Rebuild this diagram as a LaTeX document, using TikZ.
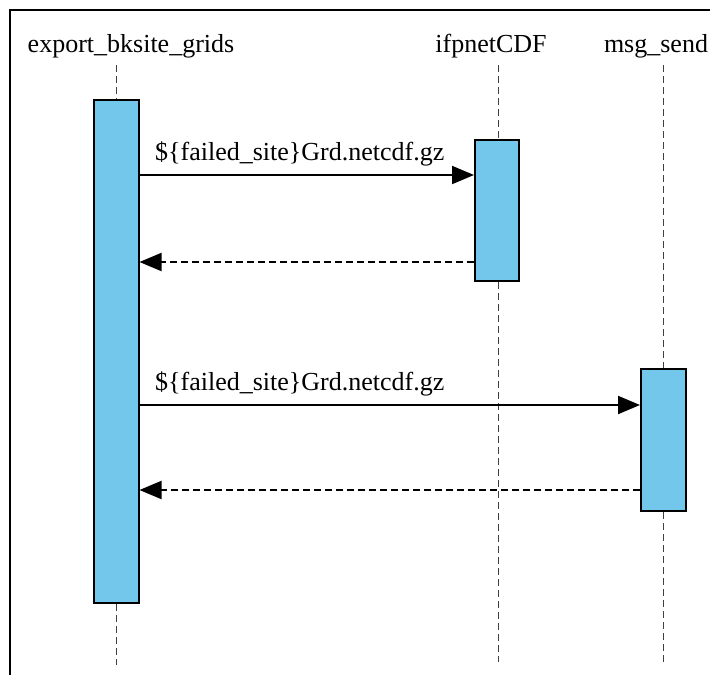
\documentclass[tikz,border=0pt]{standalone}
\usepackage{fontspec}
\setmainfont{Liberation Serif}
\usetikzlibrary{arrows.meta}
\definecolor{actfill}{RGB}{115,199,235}
\tikzset{
  lbl/.style={font=\fontsize{26}{30}\selectfont, inner sep=0pt, anchor=base},
  msglbl/.style={font=\fontsize{26}{30}\selectfont, inner sep=0pt, anchor=base west},
  actbox/.style={draw=black, line width=2pt, fill=actfill, minimum width=45pt, inner sep=0pt},
  life/.style={draw=black!75, line width=1pt, dash pattern=on 7pt off 4pt},
  callmsg/.style={line width=2pt, -{Triangle[length=22pt,width=18pt]}},
  retmsg/.style={line width=2pt, dash pattern=on 7pt off 4pt, -{Triangle[length=22pt,width=18pt]}},
  frameline/.style={line width=2pt, line cap=rect}
}
\begin{document}
\begin{tikzpicture}[x=1pt,y=-1pt]
\useasboundingbox (0,0) rectangle (710,675);
\draw[frameline] (10,675) -- (10,10) -- (710,10);
% headers
\node[lbl] (h1) at (131,52) {export\_bksite\_grids};
\node[lbl] (h2) at (491,52) {ifpnetCDF};
\node[lbl] (h3) at (656,52) {msg\_send};
% activation boxes
\node[actbox, minimum height=503pt] (b1) at (116,351.5) {};
\node[actbox, minimum height=141pt, minimum width=44pt] (b2) at (497,210.5) {};
\node[actbox, minimum height=142pt] (b3) at (663.5,440) {};
% lifeline ends
\coordinate (e1) at (116,665);
\coordinate (e2) at (498,662);
\coordinate (e3) at (663,665);
\coordinate (t1) at (116,65);
\coordinate (t2) at (498,65);
\coordinate (t3) at (663,65);
\draw[life] (t1) -- (b1.north);
\draw[life] (b1.south) -- (e1);
\draw[life] (t2) -- (b2.north -| t2);
\draw[life] (b2.south -| t2) -- (e2);
\draw[life] (t3) -- (b3.north -| t3);
\draw[life] (b3.south -| t3) -- (e3);
% messages
\draw[callmsg] (b1.east |- 0,175) -- (b2.west |- 0,175);
\node[msglbl] (m1) at (155,160) {\$\{failed\_site\}Grd.netcdf.gz};
\draw[retmsg] (b2.west |- 0,262) -- (b1.east |- 0,262);
\draw[callmsg] (b1.east |- 0,405) -- (b3.west |- 0,405);
\node[msglbl] (m2) at (155,390) {\$\{failed\_site\}Grd.netcdf.gz};
\draw[retmsg] (b3.west |- 0,490) -- (b1.east |- 0,490);
\end{tikzpicture}
\end{document}
